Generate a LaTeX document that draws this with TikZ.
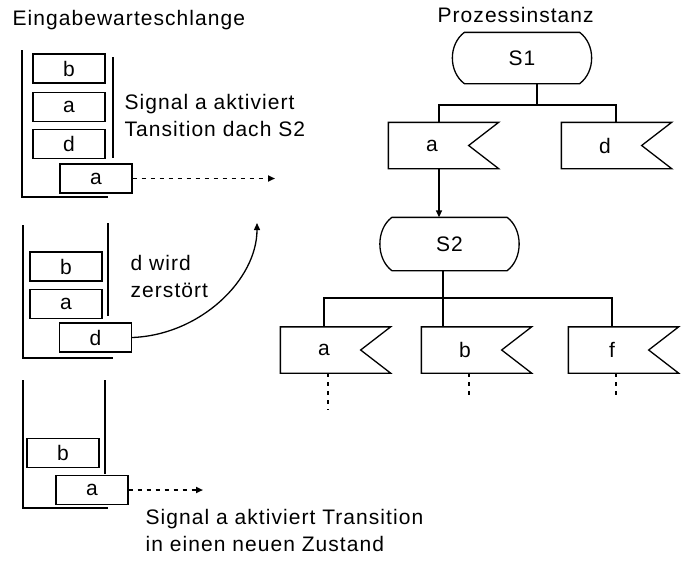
\documentclass[tikz,border=0pt]{standalone}
\usepackage{fontspec}
\setmainfont[LetterSpace=5]{Liberation Sans}
\usetikzlibrary{arrows.meta,positioning}

\begin{document}
\begin{tikzpicture}[
  x=1pt, y=-1pt,
  font=\fontsize{21}{27}\selectfont,
  line width=1.3pt,
  qbox/.style={draw,minimum width=72pt,minimum height=29pt,inner sep=0pt},
  term/.style={minimum width=114pt,minimum height=50pt,inner sep=0pt,
    append after command={\pgfextra{\let\termnode\tikzlastnode
      \draw (\termnode.north west) -- (\termnode.north east)
        .. controls +(16,12) and +(16,-12) .. (\termnode.south east)
        -- (\termnode.south west)
        .. controls +(-16,-12) and +(-16,12) .. (\termnode.north west) -- cycle;}}},
  sig/.style={minimum width=86pt,minimum height=45pt,inner sep=0pt,
    append after command={\pgfextra{\let\signode\tikzlastnode
      \draw (\signode.south west) -- (\signode.north west)
        -- ([xshift=23pt]\signode.north east) -- ([xshift=-7pt]\signode.east)
        -- ([xshift=23pt]\signode.south east) -- cycle;}}},
  dots/.style={dash pattern=on 4pt off 5pt,line width=1.8pt},
  tip/.style={-{Triangle[length=7pt,width=6pt]}},
  txt/.style={anchor=north west,inner sep=0pt,align=left}
]
\useasboundingbox (0,0) rectangle (684,562);

\node[anchor=base west,inner sep=0pt] (titleq) at (12,25) {Eingabewarteschlange};
\node[anchor=base west,inner sep=0pt] (titlep) at (437,22) {Prozessinstanz};

% queues
\draw (22,50) -- (22,197) -- (108,197);
\draw (113,57) -- (113,158);
\node[qbox] (q1b) at (69,68.5) {b};
\node[qbox,below=8pt of q1b] (q1a) {a};
\node[qbox,below=7pt of q1a] (q1d) {d};
\node[qbox] (q1out) at (96,178.5) {a};
\coordinate (q1end) at (275,178.5);
\draw[dots,tip] (q1out) -- (q1end);
\node[txt] (txt1) at (124,94) {Signal a aktiviert\\Tansition dach S2};

\draw (23,225) -- (23,358) -- (113,358);
\draw (108,223) -- (108,316);
\node[qbox] (q2b) at (66,266.5) {b};
\node[qbox,below=7pt of q2b] (q2a) {a};
\node[qbox] (q2out) at (95.5,337.5) {d};
\coordinate (curveend) at (257,223);
\draw[tip] (q2out.east) .. controls (200,335) and (257,280) .. (curveend);
\node[txt] (txt2) at (130,255) {d wird\\zerstört};

\draw (23,380) -- (23,508) -- (108,508);
\draw (105,380) -- (105,474);
\node[qbox] (q3b) at (63,453) {b};
\node[qbox] (q3out) at (92,490) {a};
\coordinate (q3end) at (203,490);
\draw[dots,tip] (q3out) -- (q3end);
\node[txt] (txt3) at (145,509) {Signal a aktiviert Transition\\in einen neuen Zustand};

% process
\node[term] (s1) at (522,58) {S1};
\node[sig] (siga) at (432,145.5) {a};
\node[sig] (sigd) at (605,145.5) {d};
\node[term,minimum height=52pt] (s2) at (449.5,244) {S2};
\node[sig] (a2) at (324,350) {a};
\node[sig] (b2) at (465,350) {b};
\node[sig] (f2) at (612,350) {f};

\coordinate (bus1) at (537,105);
\draw (s1.south -| bus1) -- (bus1);
\draw ([xshift=7pt]siga.north) |- (bus1) -| ([xshift=11pt]sigd.north);
\draw[tip] ([xshift=7pt]siga.south) -- ([xshift=7pt]siga.south |- s2.north);

\coordinate (bus2) at (443,298);
\draw (s2.south -| bus2) -- (b2.north -| bus2);
\draw (a2.north) |- (bus2) -| (f2.north);
\draw[dots] ([xshift=4pt]a2.south) -- ++(0,37);
\draw[dots] ([xshift=4pt]b2.south) -- ++(0,25);
\draw[dots] ([xshift=4pt]f2.south) -- ++(0,25);
\end{tikzpicture}
\end{document}
